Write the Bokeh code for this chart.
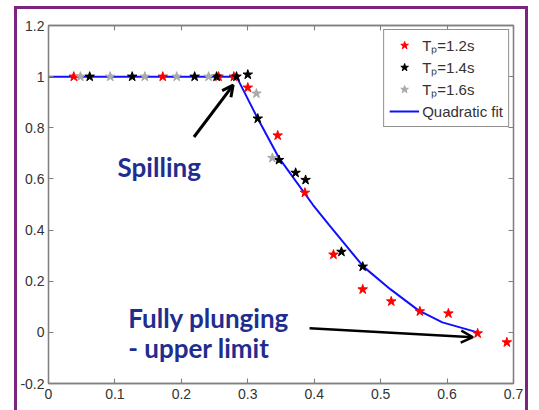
from bokeh.plotting import figure
from bokeh.models import (Range1d, FixedTicker, LinearAxis, InlineStyleSheet,
                          Legend, LegendItem, Label, Arrow, OpenHead)
from bokeh.embed import file_html
from bokeh.resources import INLINE

# ---------------- data ----------------
red_x = [0.038, 0.172, 0.256, 0.279, 0.300, 0.345, 0.386, 0.429, 0.473, 0.516, 0.559, 0.602, 0.646, 0.690]
red_y = [1.0, 1.0, 1.0, 1.0, 0.957, 0.770, 0.546, 0.304, 0.168, 0.121, 0.082, 0.074, -0.004, -0.039]

black_x = [0.062, 0.126, 0.220, 0.253, 0.283, 0.300, 0.315, 0.347, 0.372, 0.387, 0.441, 0.473]
black_y = [1.0, 1.0, 1.0, 1.0, 1.0, 1.008, 0.836, 0.674, 0.624, 0.596, 0.315, 0.257]

gray_x = [0.048, 0.093, 0.145, 0.193, 0.241, 0.313, 0.337]
gray_y = [1.0, 1.0, 1.0, 1.0, 1.0, 0.934, 0.682]

fit_x = [0.0, 0.283, 0.315, 0.347, 0.398, 0.422, 0.474, 0.515, 0.557, 0.593, 0.646]
fit_y = [1.0, 1.0, 0.836, 0.682, 0.499, 0.421, 0.257, 0.168, 0.086, 0.039, 0.0]

x_ticks = [0, 0.1, 0.2, 0.3, 0.4, 0.5, 0.6, 0.7]
y_ticks = [-0.2, 0, 0.2, 0.4, 0.6, 0.8, 1.0, 1.2]
x_tick_labels = ["0", "0.1", "0.2", "0.3", "0.4", "0.5", "0.6", "0.7"]
y_tick_labels = ["-0.2", "0", "0.2", "0.4", "0.6", "0.8", "1", "1.2"]

legend_labels = ["T\u209a=1.2s", "T\u209a=1.4s", "T\u209a=1.6s", "Quadratic fit"]

# purple slide frame drawn as a CSS overlay on the figure element
frame_css = InlineStyleSheet(css="""
:host { position: relative; }
:host::after {
  content: ""; position: absolute; pointer-events: none;
  left: 14px; top: 6px; width: 514px; height: 420px;
  border: 3px solid #7B2581; box-sizing: border-box;
}
""")

# ---------------- figure ----------------
p = figure(width=539, height=410, output_backend="svg", toolbar_location=None,
           x_range=Range1d(0, 0.7), y_range=Range1d(-0.2, 1.2),
           min_border_left=48, min_border_right=26, min_border_top=25, min_border_bottom=27,
           background_fill_color="white", border_fill_color="white")
p.stylesheets = [frame_css]
p.outline_line_color = "#808080"
p.outline_line_width = 1.3
p.xgrid.visible = False
p.ygrid.visible = False

AX_COLOR = "#808080"
LBL_COLOR = "#333333"

def style_axis(ax, ticks, labels):
    ax.ticker = FixedTicker(ticks=ticks)
    ax.axis_line_color = AX_COLOR
    ax.axis_line_width = 1.3
    ax.major_tick_line_color = AX_COLOR
    ax.major_tick_line_width = 1.1
    ax.major_tick_in = 5
    ax.major_tick_out = 0
    ax.minor_tick_line_color = None
    ax.major_label_overrides = {t: l for t, l in zip(ticks, labels)}
    ax.major_label_text_font = "Liberation Sans"
    ax.major_label_text_font_size = "14px"
    ax.major_label_text_color = LBL_COLOR

style_axis(p.xaxis[0], x_ticks, x_tick_labels)
style_axis(p.yaxis[0], y_ticks, y_tick_labels)
p.xaxis.major_label_standoff = 5
p.yaxis.major_label_standoff = 4

top_ax = LinearAxis()
right_ax = LinearAxis()
style_axis(top_ax, x_ticks, [""] * len(x_ticks))
style_axis(right_ax, y_ticks, [""] * len(y_ticks))
top_ax.major_label_standoff = 0
right_ax.major_label_standoff = 0
p.add_layout(top_ax, "above")
p.add_layout(right_ax, "right")

# ---------------- data marks ----------------
r_fit = p.line(fit_x, fit_y, line_color="#1010FF", line_width=2)
r_red = p.scatter(red_x, red_y, marker="star", size=10, fill_color="#FF0000", line_color="#FF0000")
r_black = p.scatter(black_x, black_y, marker="star", size=10, fill_color="#000000", line_color="#000000")
r_gray = p.scatter(gray_x, gray_y, marker="star", size=10, fill_color="#AAAAAA", line_color="#AAAAAA")

legend = Legend(items=[LegendItem(label=legend_labels[0], renderers=[r_red]),
                       LegendItem(label=legend_labels[1], renderers=[r_black]),
                       LegendItem(label=legend_labels[2], renderers=[r_gray]),
                       LegendItem(label=legend_labels[3], renderers=[r_fit])],
                location="top_right", margin=4, padding=5, spacing=2,
                glyph_width=30, glyph_height=20, label_height=20, label_standoff=3,
                label_text_font="Liberation Sans", label_text_font_size="15px",
                label_text_color=LBL_COLOR, border_line_color="#222222", border_line_width=1,
                background_fill_color="white", background_fill_alpha=1)
p.add_layout(legend)

# ---------------- annotations ----------------
TXT_COLOR = "#1F2D8F"
for (tx, ty, txt) in [(0.104, 0.647, "Spilling"),
                      (0.120, 0.055, "Fully plunging"),
                      (0.120, -0.062, "- upper limit")]:
    p.add_layout(Label(x=tx, y=ty, text=txt, text_font="Lato", text_font_style="bold",
                       text_font_size="26px", text_color=TXT_COLOR, text_baseline="alphabetic"))

p.add_layout(Arrow(end=OpenHead(size=11, line_width=3, line_color="black"),
                   x_start=0.219, y_start=0.764, x_end=0.278, y_end=0.967,
                   line_color="black", line_width=3))
p.add_layout(Arrow(end=OpenHead(size=12, line_width=2.5, line_color="black"),
                   x_start=0.393, y_start=0.016, x_end=0.639, y_end=-0.019,
                   line_color="black", line_width=2.5))

open("out.html", "w").write(file_html(p, INLINE))
